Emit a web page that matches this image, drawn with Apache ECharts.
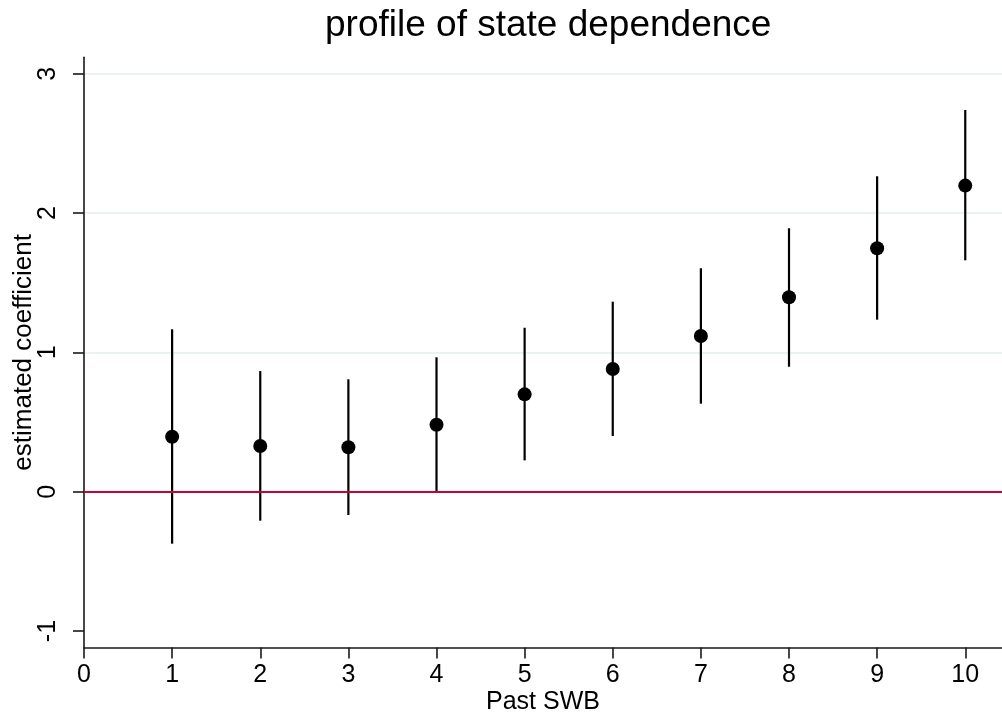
<!DOCTYPE html>
<html><head><meta charset="utf-8">
<script src="https://cdn.jsdelivr.net/npm/echarts@6/dist/echarts.min.js"></script>
<style>html,body{margin:0;padding:0;background:#fff}#c{width:1002px;height:722px}</style>
</head><body><div id="c"></div>
<script>
const pastSWB = [1, 2, 3, 4, 5, 6, 7, 8, 9, 10];
const coef   = [0.395, 0.328, 0.319, 0.481, 0.699, 0.881, 1.118, 1.396, 1.747, 2.197];
const ciLow  = [-0.373, -0.208, -0.167, -0.004, 0.225, 0.400, 0.632, 0.897, 1.235, 1.661];
const ciHigh = [1.166, 0.866, 0.807, 0.965, 1.177, 1.364, 1.604, 1.891, 2.264, 2.740];
const xTicks = [0, 1, 2, 3, 4, 5, 6, 7, 8, 9, 10];
const yTicks = [-1, 0, 1, 2, 3];
const titleText = 'profile of state dependence';
const xName = 'Past SWB';
const yName = 'estimated coefficient';

const FONT = "'Liberation Sans', Arial, Helvetica, sans-serif";
const chart = echarts.init(document.getElementById('c'), null, {renderer: 'canvas'});
chart.setOption({
  animation: false,
  backgroundColor: '#ffffff',
  title: {
    text: titleText,
    left: 325, top: 7,
    padding: 0,
    textStyle: {fontFamily: FONT, fontSize: 37, fontWeight: 'normal', color: '#000'}
  },
  grid: {left: 84, right: 0, top: 57.3, bottom: 74.5, containLabel: false, outerBoundsMode: 'none'},
  xAxis: {
    type: 'value', min: 0, max: 10.417,
    name: xName, nameLocation: 'middle', nameGap: 42, nameMoveOverlap: false,
    nameTextStyle: {fontFamily: FONT, fontSize: 25, color: '#000'},
    axisLine: {show: true, onZero: false, lineStyle: {color: '#1a1a1a', width: 1.6}},
    axisTick: {show: true, customValues: xTicks, length: 11, lineStyle: {color: '#1a1a1a', width: 1.6}},
    axisLabel: {customValues: xTicks, margin: 15, fontFamily: FONT, fontSize: 25, color: '#000'},
    splitLine: {show: false}
  },
  yAxis: {
    type: 'value', min: -1.118, max: 3.118,
    name: yName, nameLocation: 'middle', nameGap: 47, nameMoveOverlap: false,
    nameTextStyle: {fontFamily: FONT, fontSize: 26, color: '#000'},
    axisLine: {show: true, onZero: false, lineStyle: {color: '#1a1a1a', width: 1.6}},
    axisTick: {show: true, customValues: yTicks, length: 11, lineStyle: {color: '#1a1a1a', width: 1.6}},
    axisLabel: {customValues: yTicks, rotate: 90, margin: 23, fontFamily: FONT, fontSize: 25, color: '#000'},
    splitLine: {show: true, showMinLine: false, lineStyle: {color: '#eaf2f3', width: 2}}
  },
  series: [
    {
      type: 'scatter',
      data: pastSWB.map((x, i) => [x, coef[i]]),
      symbol: 'circle', symbolSize: 14,
      itemStyle: {color: '#000', opacity: 1},
      z: 2,
      markLine: {
        silent: true, symbol: 'none',
        label: {show: false},
        lineStyle: {color: '#c10534', width: 2, type: 'solid', opacity: 1},
        data: [{yAxis: 0}]
      }
    },
    {
      type: 'custom',
      data: pastSWB.map((x, i) => [x, ciLow[i], ciHigh[i]]),
      encode: {x: 0, y: [1, 2]},
      z: 3,
      renderItem: function (params, api) {
        const lo = api.coord([api.value(0), api.value(1)]);
        const hi = api.coord([api.value(0), api.value(2)]);
        return {type: 'line', shape: {x1: lo[0], y1: lo[1], x2: hi[0], y2: hi[1]},
                style: {stroke: '#000', lineWidth: 2.2}};
      }
    }
  ]
});
</script>
</body></html>
